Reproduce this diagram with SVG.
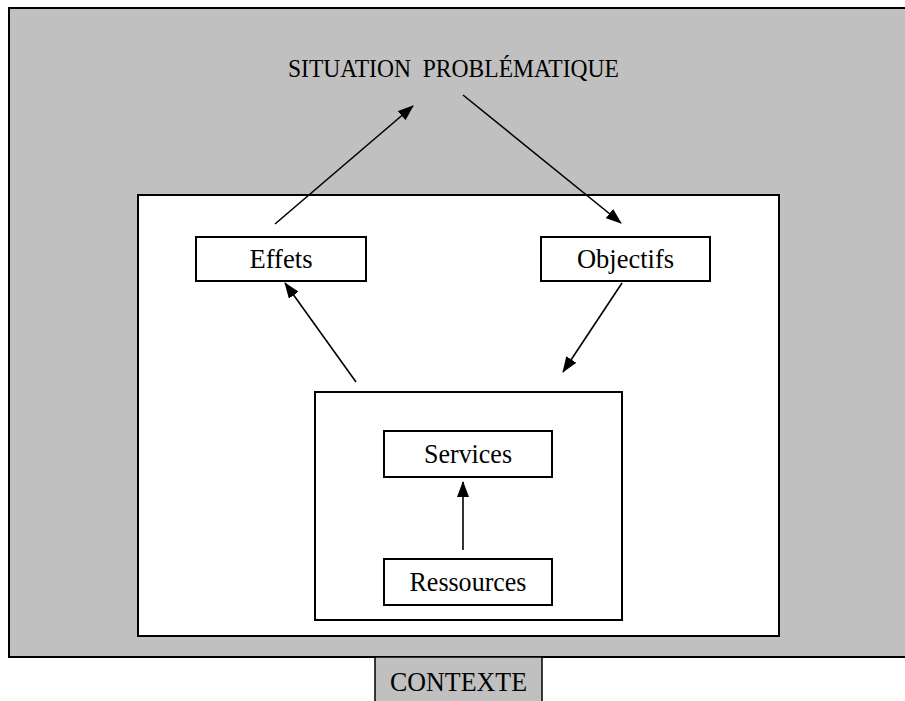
<svg xmlns="http://www.w3.org/2000/svg" width="905" height="701" viewBox="0 0 905 701">
  <style>
    .frame { stroke: #000; stroke-width: 2; }
    .box { fill: #fff; stroke: #000; stroke-width: 2; }
    .label { font-family: "Liberation Serif", "Times New Roman", serif; font-size: 28px; fill: #000; text-anchor: middle; }
    .link { stroke: #000; stroke-width: 1.6; fill: none; marker-end: url(#head); }
  </style>
  <defs>
    <marker id="head" viewBox="0 0 16 12" refX="15" refY="6" markerWidth="16" markerHeight="12" markerUnits="userSpaceOnUse" orient="auto">
      <path d="M0,0 L16,6 L0,12 Z" fill="#000"/>
    </marker>
  </defs>

  <!-- context frame (grey) -->
  <g id="contexte">
    <rect x="9" y="8" width="910" height="649" fill="#c0c0c0" class="frame"/>
    <rect x="375" y="657" width="167" height="60" fill="#c0c0c0" stroke="#000" stroke-width="1.5"/>
    <text class="label" x="458.5" y="691" textLength="137" lengthAdjust="spacingAndGlyphs">CONTEXTE</text>
  </g>

  <g id="situation">
    <text class="label" x="453.5" y="77" xml:space="preserve" style="font-size:26px" textLength="331" lengthAdjust="spacingAndGlyphs">SITUATION  PROBLÉMATIQUE</text>
  </g>

  <!-- programme area -->
  <g id="programme">
    <rect class="box" x="138" y="195" width="641" height="441"/>
  </g>

  <g id="effets">
    <rect class="box" x="196" y="237" width="170" height="44"/>
    <text class="label" x="281" y="268" textLength="63" lengthAdjust="spacingAndGlyphs">Effets</text>
  </g>

  <g id="objectifs">
    <rect class="box" x="541" y="237" width="169" height="44"/>
    <text class="label" x="625.5" y="268" textLength="97" lengthAdjust="spacingAndGlyphs">Objectifs</text>
  </g>

  <g id="intervention">
    <rect class="box" x="315" y="392" width="307" height="228"/>
  </g>

  <g id="services">
    <rect class="box" x="384" y="431" width="168" height="46"/>
    <text class="label" x="468" y="463" textLength="88" lengthAdjust="spacingAndGlyphs">Services</text>
  </g>

  <g id="ressources">
    <rect class="box" x="384" y="559" width="168" height="46"/>
    <text class="label" x="468" y="591" textLength="117" lengthAdjust="spacingAndGlyphs">Ressources</text>
  </g>

  <!-- connectors -->
  <g id="connectors">
    <line class="link" x1="275" y1="224" x2="413" y2="106"/>
    <line class="link" x1="463" y1="95" x2="621" y2="223"/>
    <line class="link" x1="356" y1="382" x2="285" y2="283"/>
    <line class="link" x1="622" y1="283" x2="563" y2="372"/>
    <line class="link" x1="463" y1="550" x2="463" y2="482"/>
  </g>
</svg>
